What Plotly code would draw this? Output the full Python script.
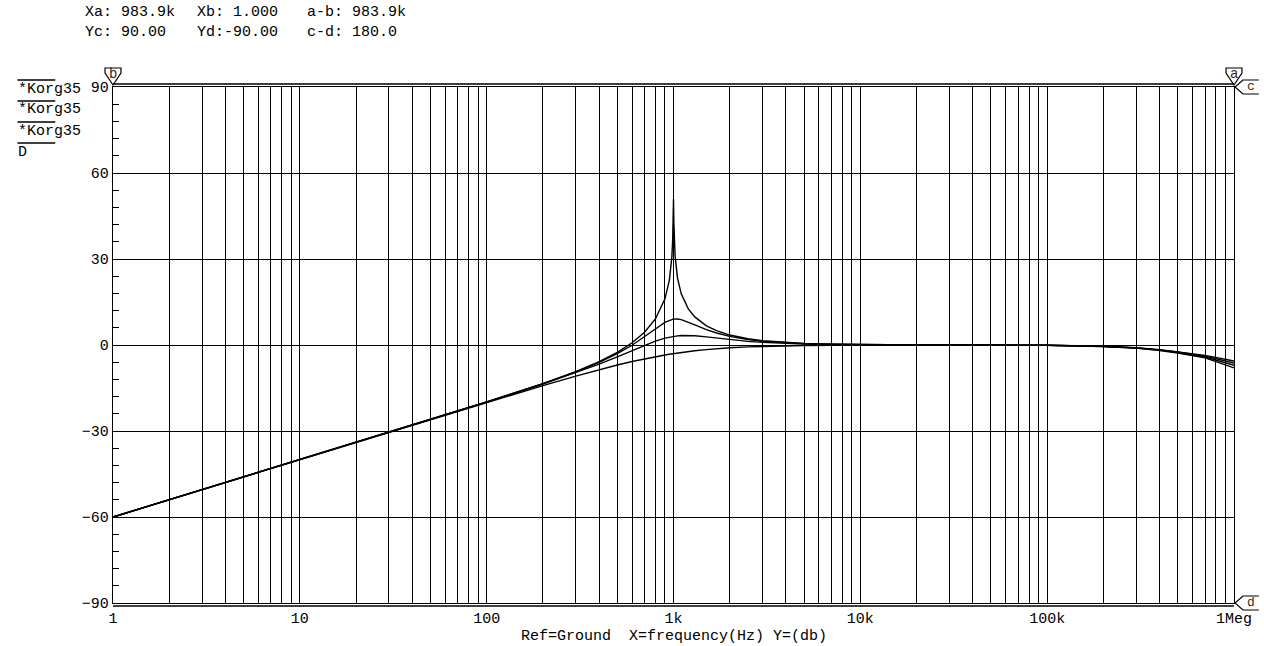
import plotly.graph_objects as go

# ---------------- data ----------------
freq_hz = [1, 2, 5, 10, 20, 50, 100, 200, 300, 400, 500, 600, 700, 800, 900,
           950, 980, 990, 995, 1000, 1005, 1010, 1020, 1050, 1100, 1200, 1300,
           1500, 1700, 2000, 2500, 3000, 4000, 5000, 7000, 10000, 20000, 50000,
           100000, 200000, 300000, 400000, 500000, 700000, 1000000]

korg35_a_db = [-60.0, -53.98, -46.02, -40.0, -33.98, -25.99, -19.87, -13.45, -9.26, -5.80,
               -2.55, 0.77, 4.48, 9.08, 16.09, 22.56, 30.75, 36.73, 42.33, 50.97,
               42.40, 36.90, 31.10, 23.43, 17.83, 12.59, 9.80, 6.70, 4.98, 3.47,
               2.16, 1.48, 0.82, 0.53, 0.27, 0.13, 0.03, -0.02, -0.09, -0.45,
               -0.97, -1.6, -2.3, -3.6, -5.6]

korg35_b_db = [-60.0, -53.98, -46.02, -40.0, -33.98, -25.99, -19.88, -13.50, -9.38, -6.04,
               -3.01, -0.09, 2.81, 5.59, 7.89, 8.64, 8.92, 8.98, 9.00, 9.03,
               9.05, 9.07, 9.09, 9.09, 8.87, 8.03, 7.04, 5.37, 4.18, 3.01,
               1.92, 1.33, 0.75, 0.48, 0.24, 0.12, 0.03, -0.02, -0.10, -0.47,
               -1.0, -1.7, -2.45, -3.9, -6.3]

korg35_c_db = [-60.0, -53.98, -46.02, -40.0, -33.98, -26.00, -19.91, -13.64, -9.71, -6.69,
               -4.15, -1.96, -0.12, 1.35, 2.39, 2.75, 2.92, 2.97, 2.99, 3.01,
               3.03, 3.05, 3.09, 3.19, 3.29, 3.33, 3.22, 2.83, 2.40, 1.87,
               1.27, 0.91, 0.53, 0.34, 0.18, 0.09, 0.02, -0.02, -0.11, -0.50,
               -1.05, -1.8, -2.6, -4.2, -7.1]

d_db = [-60.0, -53.98, -46.02, -40.0, -33.98, -26.03, -20.04, -14.15, -10.83, -8.60,
        -6.99, -5.77, -4.83, -4.09, -3.49, -3.24, -3.10, -3.05, -3.03, -3.01,
        -2.99, -2.97, -2.92, -2.80, -2.62, -2.29, -2.02, -1.60, -1.29, -0.97,
        -0.64, -0.46, -0.26, -0.17, -0.09, -0.04, -0.02, -0.03, -0.12, -0.55,
        -1.1, -1.9, -2.8, -4.5, -8.0]

x_tick_vals = [1, 10, 100, 1000, 10000, 100000, 1000000]
x_tick_text = ["1", "10", "100", "1k", "10k", "100k", "1Meg"]
legend_labels = ["*Korg35", "*Korg35", "*Korg35", "D"]
header_line1 = ["Xa: 983.9k", "Xb: 1.000", "a-b: 983.9k"]
header_line2 = ["Yc: 90.00", "Yd:-90.00", "c-d: 180.0"]
x_title = "Ref=Ground\u00a0\u00a0X=frequency(Hz)\u00a0Y=(db)"

# ---------------- geometry helpers ----------------
W, H = 1264, 646
L, R, T, B = 113, 1239, 87, 603
FONT = "Liberation Mono, Courier New, monospace"
INK = "black"
GRID_W = 1.4


def px(x):
    return (x - L) / (R - L)


def py(y):
    return (B - y) / (B - T)


fig = go.Figure()
for series in [korg35_a_db, korg35_b_db, korg35_c_db, d_db]:
    fig.add_trace(go.Scatter(x=freq_hz, y=series, mode="lines",
                             line=dict(color=INK, width=1.4),
                             hoverinfo="skip", showlegend=False))

minor_vals = [m * 10 ** e for e in range(0, 6) for m in range(2, 10)]

fig.update_layout(
    width=W, height=H,
    margin=dict(l=L, r=W - R, t=T, b=H - B, pad=0),
    paper_bgcolor="white", plot_bgcolor="white",
    font=dict(family=FONT, size=15, color=INK),
    showlegend=False,
    xaxis=dict(type="log", range=[0, 6], tickvals=x_tick_vals, ticktext=x_tick_text,
               showgrid=True, gridcolor=INK, gridwidth=GRID_W,
               minor=dict(tickvals=minor_vals, showgrid=True, gridcolor=INK,
                          gridwidth=GRID_W, ticks=""),
               showline=True, linecolor=INK, linewidth=GRID_W, mirror=True,
               ticks="", ticklabelstandoff=1, zeroline=False,
               tickfont=dict(family=FONT, size=15)),
    yaxis=dict(range=[-90, 90], tick0=0, dtick=30,
               showgrid=True, gridcolor=INK, gridwidth=GRID_W,
               minor=dict(dtick=6, ticks="inside", ticklen=6, tickcolor=INK,
                          tickwidth=GRID_W, showgrid=False),
               showline=True, linecolor=INK, linewidth=GRID_W, mirror=True,
               ticks="inside", ticklen=6, tickcolor=INK, tickwidth=GRID_W,
               zeroline=False, tickfont=dict(family=FONT, size=15)),
)

shapes = []
annotations = []

# double borders top / bottom
shapes.append(dict(type="line", xref="paper", yref="paper", x0=0, x1=1,
                   y0=py(84), y1=py(84), line=dict(color=INK, width=1.4)))
shapes.append(dict(type="line", xref="paper", yref="paper", x0=0, x1=1,
                   y0=py(606), y1=py(606), line=dict(color=INK, width=1.4)))

# header
for i, txt in enumerate(header_line1):
    annotations.append(dict(text=txt, xref="paper", yref="paper", x=px([83, 195, 306][i]),
                            y=py(13), xanchor="left", yanchor="middle", showarrow=False,
                            font=dict(family=FONT, size=15, color=INK)))
for i, txt in enumerate(header_line2):
    annotations.append(dict(text=txt, xref="paper", yref="paper", x=px([83, 195, 306][i]),
                            y=py(32), xanchor="left", yanchor="middle", showarrow=False,
                            font=dict(family=FONT, size=15, color=INK)))

# legend with overlines
for i, lab in enumerate(legend_labels):
    ly = [80, 101, 122, 143][i]
    shapes.append(dict(type="line", xref="paper", yref="paper", x0=px(17), x1=px(55),
                       y0=py(ly), y1=py(ly), line=dict(color=INK, width=1.4)))
    annotations.append(dict(text=lab, xref="paper", yref="paper", x=px(16), y=py(ly + 9),
                            xanchor="left", yanchor="middle", showarrow=False,
                            font=dict(family=FONT, size=15, color=INK)))

# x axis title
annotations.append(dict(text=x_title, xref="paper", yref="paper", x=px(676), y=py(636),
                        xanchor="center", yanchor="middle", showarrow=False,
                        font=dict(family=FONT, size=15, color=INK)))


def path(pts):
    return "M " + " L ".join(f"{px(a):.5f},{py(b):.5f}" for a, b in pts)


# cursor markers a / b (down pointing flags)
for cx, letter in [(113, "b"), (1239, "a")]:
    shapes.append(dict(type="path", xref="paper", yref="paper",
                       path=path([(cx - 8, 68), (cx + 8, 68), (cx + 8, 73), (cx, 85),
                                  (cx - 8, 73)]) + " Z",
                       line=dict(color=INK, width=1.2), fillcolor="rgba(0,0,0,0)"))
    annotations.append(dict(text=letter, xref="paper", yref="paper", x=px(cx), y=py(74),
                            xanchor="center", yanchor="middle", showarrow=False,
                            font=dict(family=FONT, size=14, color="#3a2a1a")))

# cursor markers c / d (left pointing)
for cy, letter in [(87, "c"), (603, "d")]:
    shapes.append(dict(type="path", xref="paper", yref="paper",
                       path=path([(1264, cy - 7), (1248, cy - 7), (1240, cy), (1248, cy + 7),
                                  (1264, cy + 7)]),
                       line=dict(color=INK, width=1.2), fillcolor="rgba(0,0,0,0)"))
    annotations.append(dict(text=letter, xref="paper", yref="paper", x=px(1256), y=py(cy - 1),
                            xanchor="center", yanchor="middle", showarrow=False,
                            font=dict(family=FONT, size=13, color="#3a2a1a")))

fig.update_layout(shapes=shapes, annotations=annotations)

fig.write_html("out.html", config={"displayModeBar": False},
               post_script="document.body.style.margin='0';document.body.style.overflow='hidden';")
